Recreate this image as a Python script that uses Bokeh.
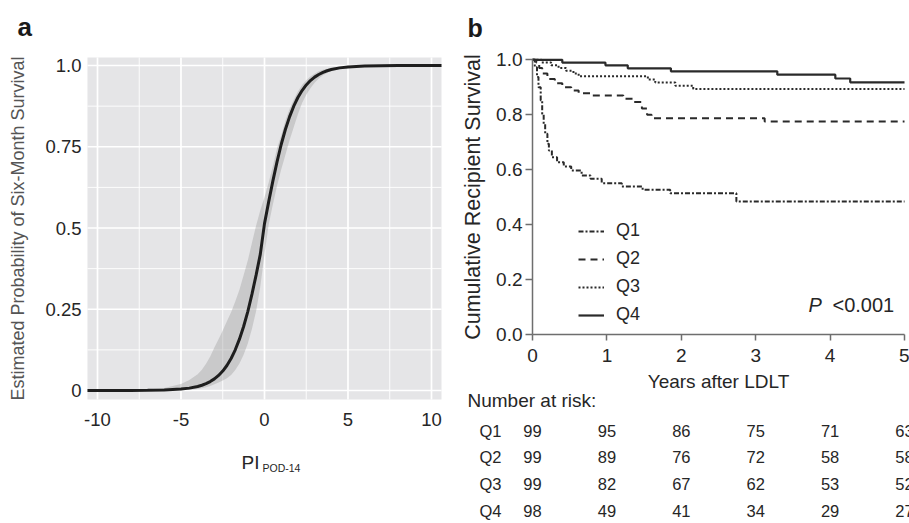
from bokeh.plotting import figure
from bokeh.models import (Range1d, FixedTicker, Label, LabelSet, ColumnDataSource,
                          Legend, LegendItem, NumeralTickFormatter, LinearAxis)
from bokeh.core.properties import value
from bokeh.embed import file_html
from bokeh.resources import INLINE

FONT = "Liberation Sans"

# ---------------- Panel a data ----------------
pi_x = [-10.6, -8, -7, -6, -5, -4.5, -4.0, -3.75, -3.5, -3.25, -3.0, -2.75, -2.5, -2.25,
        -2.0, -1.75, -1.5, -1.25, -1.0, -0.75, -0.5, -0.25, 0.0, 0.25, 0.5, 0.75, 1.0,
        1.25, 1.5, 1.75, 2.0, 2.25, 2.5, 2.75, 3.0, 3.25, 3.5, 3.75, 4.0, 4.5, 5, 6, 7, 8, 10.6]
prob = [0.0, 0.0002, 0.0005, 0.0015, 0.0043, 0.0073, 0.0125, 0.0162, 0.0212, 0.0276, 0.0358,
        0.0464, 0.0598, 0.0770, 0.0985, 0.1252, 0.158, 0.197, 0.243, 0.2965, 0.3557, 0.4197,
        0.5135, 0.5803, 0.6443, 0.7035, 0.757, 0.803, 0.842, 0.8748, 0.9015, 0.923, 0.9402,
        0.9536, 0.9642, 0.9724, 0.9788, 0.9838, 0.9875, 0.9927, 0.9957, 0.9985, 0.9995,
        0.9998, 1.0]
prob_hi = [0.0, 0.001, 0.003, 0.008, 0.020, 0.032, 0.050, 0.064, 0.082, 0.105, 0.132, 0.158,
           0.185, 0.213, 0.241, 0.274, 0.31, 0.355, 0.40, 0.455, 0.508, 0.555, 0.595, 0.64,
           0.69, 0.745, 0.785, 0.83, 0.866, 0.895, 0.92, 0.94, 0.955, 0.966, 0.975, 0.982,
           0.987, 0.990, 0.993, 0.996, 0.998, 0.9995, 1.0, 1.0, 1.0]
prob_lo = [0.0, 0.0, 0.0001, 0.0003, 0.001, 0.002, 0.005, 0.007, 0.010, 0.014, 0.019, 0.025,
           0.031, 0.038, 0.048, 0.063, 0.083, 0.11, 0.145, 0.19, 0.245, 0.32, 0.42, 0.51,
           0.572, 0.63, 0.68, 0.725, 0.77, 0.81, 0.85, 0.885, 0.91, 0.93, 0.947, 0.96, 0.97,
           0.977, 0.983, 0.99, 0.994, 0.998, 0.9993, 0.9998, 1.0]
a_xlim = [-10.6, 10.6]
a_ylim = [-0.0277, 1.0246]
a_xticks = [-10, -5, 0, 5, 10]
a_xlabels = ["-10", "-5", "0", "5", "10"]
a_xminor = [-7.5, -2.5, 2.5, 7.5]
a_yticks = [0, 0.25, 0.5, 0.75, 1.0]
a_ylabels = ["0", "0.25", "0.5", "0.75", "1.0"]
a_yminor = [0.125, 0.375, 0.625, 0.875]

# ---------------- Panel b data ----------------
q1_t = [0, 0.03, 0.06, 0.08, 0.11, 0.13, 0.15, 0.17, 0.20, 0.22, 0.26, 0.33, 0.42, 0.52,
        0.66, 0.78, 0.93, 1.20, 1.48, 1.85, 2.74, 5.0]
q1_s = [1.0, 0.973, 0.937, 0.90, 0.852, 0.803, 0.767, 0.731, 0.694, 0.670, 0.645, 0.627,
        0.612, 0.597, 0.579, 0.567, 0.551, 0.539, 0.527, 0.514, 0.484, 0.484]
q2_t = [0, 0.05, 0.09, 0.13, 0.20, 0.30, 0.40, 0.52, 0.62, 0.78, 1.22, 1.36, 1.47, 1.54,
        1.60, 3.12, 5.0]
q2_s = [1.0, 0.99, 0.97, 0.95, 0.93, 0.915, 0.90, 0.888, 0.878, 0.870, 0.858, 0.846, 0.823,
        0.80, 0.787, 0.775, 0.775]
q3_t = [0, 0.12, 0.25, 0.35, 0.45, 0.55, 0.62, 1.55, 1.65, 1.92, 2.16, 5.0]
q3_s = [1.0, 0.990, 0.980, 0.970, 0.960, 0.950, 0.940, 0.928, 0.917, 0.906, 0.894, 0.894]
q4_t = [0, 0.40, 0.98, 1.28, 1.86, 3.29, 4.07, 4.27, 5.0]
q4_s = [1.0, 0.990, 0.980, 0.969, 0.958, 0.946, 0.932, 0.918, 0.918]

groups = ["Q1", "Q2", "Q3", "Q4"]
risk_years = [0, 1, 2, 3, 4, 5]
risk_q1 = [99, 95, 86, 75, 71, 63]
risk_q2 = [99, 89, 76, 72, 58, 58]
risk_q3 = [99, 82, 67, 62, 53, 52]
risk_q4 = [98, 49, 41, 34, 29, 27]
b_xticks = [0, 1, 2, 3, 4, 5]
b_yticks = [0.0, 0.2, 0.4, 0.6, 0.8, 1.0]

# One canvas; panel b uses the default ranges, panel a the extra ranges "a".
p = figure(width=909, height=523, x_range=Range1d(-7.151, 5.067),
           y_range=Range1d(-0.6880, 1.2159), x_axis_location=None, y_axis_location=None,
           min_border=0, output_backend="svg", toolbar_location=None)
p.extra_x_ranges = {"a": Range1d(-15.808, 38.623)}
p.extra_y_ranges = {"a": Range1d(-0.4092, 1.2)}
p.outline_line_color = None
p.background_fill_color = "white"
p.border_fill_color = "white"
for g in p.grid:
    g.visible = False

# ================= Panel a =================
A = dict(x_range_name="a", y_range_name="a")
PANEL_BG = "#E5E5E7"
p.quad(left=[a_xlim[0]], right=[a_xlim[1]], bottom=[a_ylim[0]], top=[a_ylim[1]],
       fill_color=PANEL_BG, line_color=None, **A)
# panel grid (white, ggplot style)
p.segment(x0=a_xminor, x1=a_xminor, y0=[a_ylim[0]] * len(a_xminor),
          y1=[a_ylim[1]] * len(a_xminor), line_color="white", line_width=0.9, **A)
p.segment(x0=[a_xlim[0]] * len(a_yminor), x1=[a_xlim[1]] * len(a_yminor), y0=a_yminor,
          y1=a_yminor, line_color="white", line_width=0.9, **A)
p.segment(x0=a_xticks, x1=a_xticks, y0=[a_ylim[0]] * len(a_xticks),
          y1=[a_ylim[1]] * len(a_xticks), line_color="white", line_width=1.7, **A)
p.segment(x0=[a_xlim[0]] * len(a_yticks), x1=[a_xlim[1]] * len(a_yticks), y0=a_yticks,
          y1=a_yticks, line_color="white", line_width=1.7, **A)

p.varea(x=pi_x, y1=prob_lo, y2=prob_hi, fill_color="#9A9A9A", fill_alpha=0.38, **A)
p.line(pi_x, prob, line_color="#1e1e1e", line_width=3, **A)

ax_a_x = LinearAxis(fixed_location=a_ylim[0], bounds=tuple(a_xlim),
                    ticker=FixedTicker(ticks=a_xticks), **A)
ax_a_x.major_label_overrides = {v: s for v, s in zip(a_xticks, a_xlabels)}
ax_a_y = LinearAxis(fixed_location=a_xlim[0], bounds=tuple(a_ylim),
                    ticker=FixedTicker(ticks=a_yticks), **A)
ax_a_y.major_label_overrides = {v: s for v, s in zip(a_yticks, a_ylabels)}
for ax in (ax_a_x, ax_a_y):
    ax.axis_line_color = None
    ax.major_tick_line_color = None
    ax.minor_tick_line_color = None
    ax.major_tick_out = 0
    ax.major_tick_in = 0
    ax.major_label_text_font = FONT
    ax.major_label_text_font_size = "18.5px"
    ax.major_label_text_color = "#262626"
ax_a_x.major_label_standoff = 13
ax_a_y.major_label_standoff = 6
ax_a_y.axis_label = "Estimated Probability of Six-Month Survival"
ax_a_y.axis_label_text_font = FONT
ax_a_y.axis_label_text_font_size = "18px"
ax_a_y.axis_label_text_font_style = "normal"
ax_a_y.axis_label_text_color = "#555555"
ax_a_y.axis_label_standoff = 14
p.add_layout(ax_a_x, "below")
p.add_layout(ax_a_y, "left")

p.add_layout(Label(x=-1.377, y=-0.2215, text="PI", text_font=FONT, text_font_size="19px",
                   text_color="#262626", text_baseline="alphabetic", **A))
p.add_layout(Label(x=-0.12, y=-0.237, text="POD-14", text_font=FONT,
                   text_font_size="10.5px", text_color="#262626",
                   text_baseline="alphabetic", **A))
p.add_layout(Label(x=-14.79, y=1.117, text="a", text_font=FONT, text_font_size="26px",
                   text_font_style="bold", text_color="#1a1a1a",
                   text_baseline="alphabetic", **A))

# ================= Panel b =================
AX = "#6e6e6e"
ax_b_x = LinearAxis(fixed_location=0, bounds=(0, 5), ticker=FixedTicker(ticks=b_xticks))
ax_b_y = LinearAxis(fixed_location=0, bounds=(0, 1), ticker=FixedTicker(ticks=b_yticks),
                    formatter=NumeralTickFormatter(format="0.0"))
for ax in (ax_b_x, ax_b_y):
    ax.axis_line_color = AX
    ax.axis_line_width = 1.5
    ax.major_tick_line_color = AX
    ax.major_tick_line_width = 1.5
    ax.major_tick_in = 0
    ax.minor_tick_line_color = None
    ax.major_label_text_font = FONT
    ax.major_label_text_font_size = "19px"
    ax.major_label_text_color = "#262626"
    ax.axis_label_text_font = FONT
    ax.axis_label_text_font_style = "normal"
    ax.axis_label_text_color = "#262626"
ax_b_x.major_tick_out = 6
ax_b_y.major_tick_out = 7
ax_b_x.major_label_standoff = 8
ax_b_y.major_label_standoff = 3
ax_b_x.axis_label = "Years after LDLT"
ax_b_x.axis_label_text_font_size = "19px"
ax_b_x.axis_label_standoff = 6
ax_b_y.axis_label = "Cumulative Recipient Survival"
ax_b_y.axis_label_text_font_size = "21.5px"
ax_b_y.axis_label_standoff = 8
p.add_layout(ax_b_x, "below")
p.add_layout(ax_b_y, "left")

LC = "#2a2a2a"
r1 = p.step(q1_t, q1_s, mode="after", line_color=LC, line_width=2, line_dash="5 2 2 2")
r2 = p.step(q2_t, q2_s, mode="after", line_color=LC, line_width=2, line_dash="7 5")
r3 = p.step(q3_t, q3_s, mode="after", line_color=LC, line_width=2, line_dash="2 2")
r4 = p.step(q4_t, q4_s, mode="after", line_color=LC, line_width=2.2)

legend = Legend(items=[LegendItem(label=g, renderers=[r]) for g, r in
                       zip(groups, [r1, r2, r3, r4])],
                location=(578, 198), glyph_width=26, glyph_height=20, label_height=20,
                label_width=20, spacing=7, padding=0, margin=0, label_standoff=12,
                label_text_font=FONT, label_text_font_size="18px",
                label_text_color="#262626", background_fill_alpha=0,
                border_line_alpha=0)
p.add_layout(legend)

p.add_layout(Label(x=3.71, y=0.109, text="P", text_font=FONT, text_font_size="20px",
                   text_font_style="italic", text_color="#262626",
                   text_baseline="alphabetic"))
p.add_layout(Label(x=4.032, y=0.109, text="<0.001", text_font=FONT, text_font_size="20px",
                   text_color="#262626", text_baseline="alphabetic"))
p.add_layout(Label(x=-0.874, y=1.1176, text="b", text_font=FONT, text_font_size="25px",
                   text_font_style="bold", text_color="#1a1a1a", text_baseline="alphabetic"))

# number at risk table
row_y = [-0.3495, -0.4467, -0.5442, -0.6407]
risk_rows = [risk_q1, risk_q2, risk_q3, risk_q4]
tx, ty, tt = [], [], []
for ry, vals in zip(row_y, risk_rows):
    for yr, v in zip(risk_years, vals):
        tx.append(yr)
        ty.append(ry)
        tt.append(str(v))
risk_src = ColumnDataSource(dict(x=tx, y=ty, text=tt))
p.add_layout(LabelSet(x="x", y="y", text="text", source=risk_src, text_font=value(FONT),
                      text_font_size=value("16.5px"), text_color="#262626",
                      text_align="center", text_baseline="middle"))
grp_src = ColumnDataSource(dict(x=[-0.565] * 4, y=row_y, text=groups))
p.add_layout(LabelSet(x="x", y="y", text="text", source=grp_src, text_font=value(FONT),
                      text_font_size=value("16.5px"), text_color="#262626",
                      text_align="center", text_baseline="middle"))
p.add_layout(Label(x=-0.874, y=-0.2403, text="Number at risk:", text_font=FONT,
                   text_font_size="19px", text_color="#262626", text_baseline="middle"))

open("out.html", "w").write(file_html(p, INLINE))
